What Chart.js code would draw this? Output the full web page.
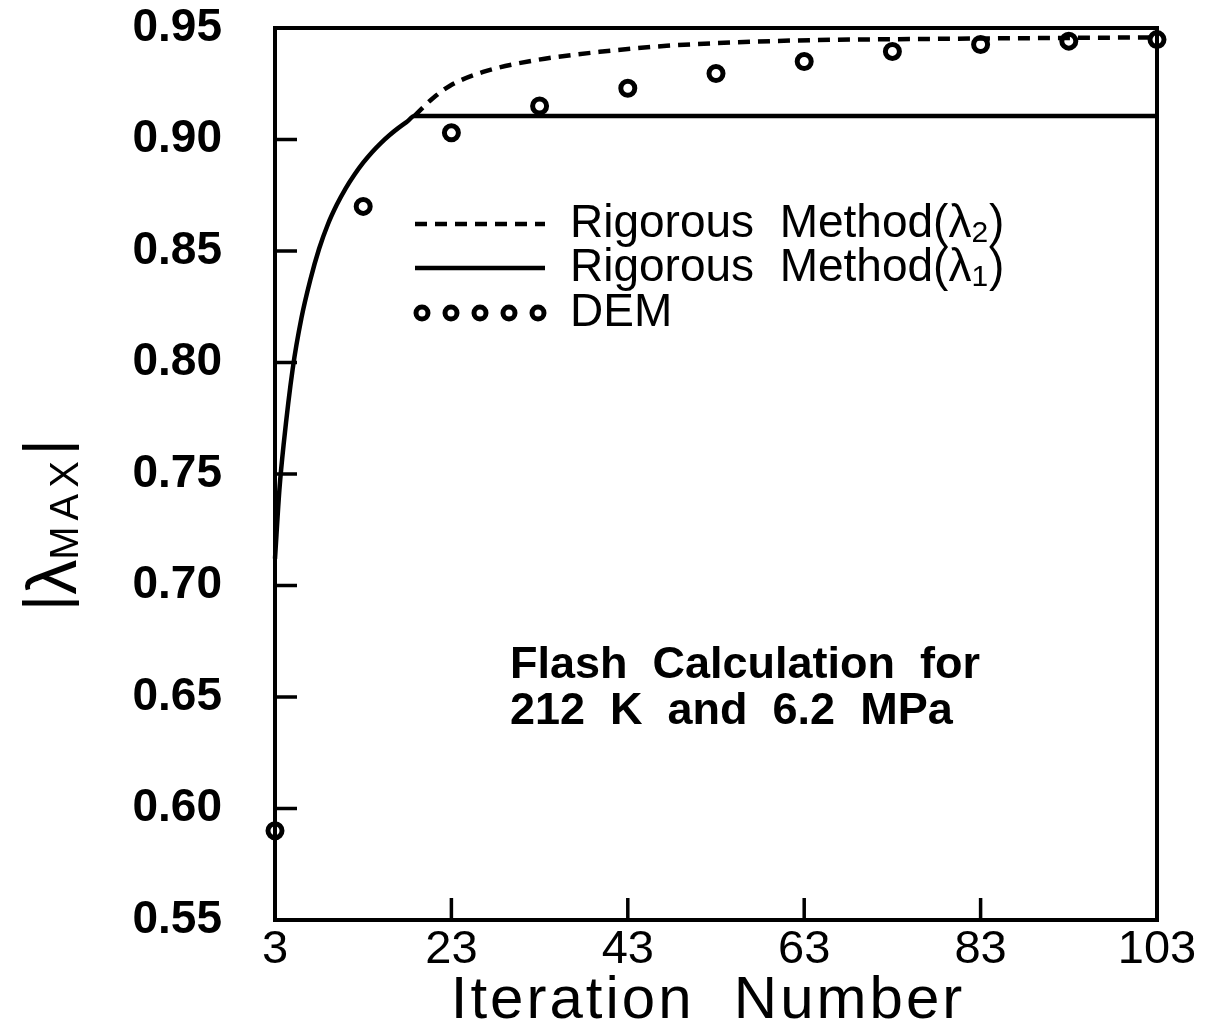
<!DOCTYPE html>
<html>
<head>
<meta charset="utf-8">
<script src="https://cdn.jsdelivr.net/npm/chart.js@4.4.1/dist/chart.umd.min.js"></script>
<style>
  body { margin: 0; background: #fff; }
  #wrap { width: 1207px; height: 1025px; }
</style>
</head>
<body>
<div id="wrap"><canvas id="myChart"></canvas></div>
<script>
const xTicks = [3, 23, 43, 63, 83, 103];
const yTicks = [0.55, 0.60, 0.65, 0.70, 0.75, 0.80, 0.85, 0.90, 0.95];

// Rigorous method, lambda 1 (solid)
const lambda1X = [3, 3.5, 4, 5, 6, 7, 8, 9, 10, 11, 12, 13, 14, 15, 16, 17, 18, 18.8, 103];
const lambda1Y = [0.712, 0.743, 0.764, 0.797, 0.820, 0.837, 0.851, 0.862, 0.8707, 0.878, 0.8842, 0.8896, 0.8943, 0.8984, 0.902, 0.9052, 0.9081, 0.9105, 0.9105];

// Rigorous method, lambda 2 (dashed)
const lambda2X = [18.8, 19.8, 20.9, 22.8, 26.6, 32.3, 39.8, 47.4, 54.9, 62, 80, 103];
const lambda2Y = [0.9105, 0.9145, 0.9185, 0.924, 0.9303, 0.9354, 0.9393, 0.942, 0.9435, 0.9444, 0.9452, 0.9458];

// DEM (circles)
const demX = [3, 13, 23, 33, 43, 53, 63, 73, 83, 93, 103];
const demY = [0.590, 0.870, 0.903, 0.915, 0.923, 0.9296, 0.935, 0.9395, 0.9426, 0.9441, 0.9448];

const legendLabels = ['Rigorous  Method(\u03bb', 'Rigorous  Method(\u03bb', 'DEM'];
const legendSubs = ['2', '1', ''];
const noteLines = ['Flash  Calculation  for', '212  K  and  6.2  MPa'];
const xTitle = 'Iteration  Number';

const FONT = '"Liberation Sans", Arial, sans-serif';

const pts = (xs, ys) => xs.map((v, i) => ({ x: v, y: ys[i] }));

const decorations = {
  id: 'decorations',
  beforeDatasetsDraw(chart) {
    const { ctx, chartArea: a, scales: { x, y } } = chart;
    ctx.save();
    ctx.strokeStyle = '#000';
    ctx.lineWidth = 4;
    ctx.strokeRect(a.left, a.top, a.right - a.left, a.bottom - a.top);
    ctx.lineWidth = 3.5;
    ctx.beginPath();
    yTicks.forEach(v => {
      const py = y.getPixelForValue(v);
      ctx.moveTo(a.left, py);
      ctx.lineTo(a.left + 22, py);
    });
    xTicks.forEach(v => {
      const px = x.getPixelForValue(v);
      ctx.moveTo(px, a.bottom);
      ctx.lineTo(px, a.bottom - 22);
    });
    ctx.stroke();
    ctx.restore();
  },
  afterDraw(chart) {
    const { ctx } = chart;
    const ds = chart.data.datasets;
    ctx.save();
    ctx.fillStyle = '#000';
    ctx.strokeStyle = '#000';

    // legend
    const rows = [224, 268, 313];
    const sx0 = 415, sx1 = 545, tx = 570;
    [1, 0, 2].forEach((di, r) => {
      const d = ds[di];
      const ry = rows[r];
      if (d.showLine === false) {
        ctx.lineWidth = d.pointBorderWidth;
        ctx.setLineDash([]);
        for (let k = 0; k < 5; k++) {
          ctx.beginPath();
          ctx.arc(sx0 + 7 + k * 29, ry, d.pointRadius - 1, 0, Math.PI * 2);
          ctx.stroke();
        }
      } else {
        ctx.lineWidth = d.borderWidth;
        ctx.setLineDash(d.borderDash || []);
        ctx.beginPath();
        ctx.moveTo(sx0, ry);
        ctx.lineTo(sx1, ry);
        ctx.stroke();
        ctx.setLineDash([]);
      }
      ctx.font = '46px ' + FONT;
      ctx.textBaseline = 'middle';
      ctx.textAlign = 'left';
      const label = legendLabels[r];
      ctx.fillText(label, tx, ry);
      if (legendSubs[r]) {
        const w = ctx.measureText(label).width;
        ctx.font = '30px ' + FONT;
        ctx.fillText(legendSubs[r], tx + w, ry + 10);
        const w2 = ctx.measureText(legendSubs[r]).width;
        ctx.font = '46px ' + FONT;
        ctx.fillText(')', tx + w + w2 + 1, ry);
      }
    });

    // note
    ctx.font = 'bold 45px ' + FONT;
    ctx.textBaseline = 'middle';
    ctx.textAlign = 'left';
    ctx.fillText(noteLines[0], 510, 666);
    ctx.fillText(noteLines[1], 510, 712);

    // x title
    ctx.font = '60px ' + FONT;
    ctx.textAlign = 'center';
    ctx.textBaseline = 'alphabetic';
    ctx.letterSpacing = '3px';
    ctx.fillText(xTitle, 708, 1018);
    ctx.letterSpacing = '0px';

    // y title |λMAX|
    ctx.translate(78, 525);
    ctx.rotate(-Math.PI / 2);
    ctx.textAlign = 'left';
    ctx.textBaseline = 'alphabetic';
    ctx.font = '62px ' + FONT;
    const wBar = ctx.measureText('|').width;
    ctx.font = '70px ' + FONT;
    const wLam = ctx.measureText('\u03bb').width;
    ctx.font = '40px ' + FONT;
    ctx.letterSpacing = '6px';
    const wMax = ctx.measureText('MAX').width;
    const total = wBar * 2 + wLam + wMax;
    let cx = -total / 2;
    ctx.letterSpacing = '0px';
    ctx.font = '62px ' + FONT;
    ctx.fillText('|', cx, -12);
    cx += wBar;
    ctx.font = '70px ' + FONT;
    ctx.fillText('\u03bb', cx, -2);
    cx += wLam;
    ctx.font = '40px ' + FONT;
    ctx.letterSpacing = '6px';
    ctx.fillText('MAX', cx, 0);
    cx += wMax;
    ctx.letterSpacing = '0px';
    ctx.font = '62px ' + FONT;
    ctx.fillText('|', cx, -12);
    ctx.restore();
  }
};

new Chart(document.getElementById('myChart'), {
  type: 'scatter',
  data: {
    datasets: [
      {
        label: 'Rigorous Method(\u03bb1)',
        data: pts(lambda1X, lambda1Y),
        showLine: true,
        borderColor: '#000',
        borderWidth: 4.5,
        pointRadius: 0,
        cubicInterpolationMode: 'monotone',
        clip: false
      },
      {
        label: 'Rigorous Method(\u03bb2)',
        data: pts(lambda2X, lambda2Y),
        showLine: true,
        borderColor: '#000',
        borderWidth: 4.5,
        borderDash: [12, 8],
        pointRadius: 0,
        cubicInterpolationMode: 'monotone',
        clip: false
      },
      {
        label: 'DEM',
        data: pts(demX, demY),
        showLine: false,
        borderColor: '#000',
        backgroundColor: 'rgba(0,0,0,0)',
        pointBackgroundColor: 'rgba(0,0,0,0)',
        pointBorderColor: '#000',
        borderWidth: 5,
        pointBorderWidth: 5,
        pointRadius: 7,
        clip: false
      }
    ]
  },
  options: {
    responsive: true,
    maintainAspectRatio: false,
    animation: false,
    events: [],
    layout: { padding: { left: 0, top: 28, right: 50, bottom: 0 } },
    plugins: { legend: { display: false }, tooltip: { enabled: false } },
    scales: {
      x: {
        type: 'linear',
        min: 3,
        max: 103,
        afterBuildTicks: s => { s.ticks = xTicks.map(v => ({ value: v })); },
        afterFit: s => { s.height = 105; s.paddingLeft = 0; s.paddingRight = 0; },
        grid: { display: false, drawTicks: false },
        border: { display: false },
        ticks: {
          color: '#000',
          padding: 2,
          maxRotation: 0,
          font: { family: FONT, size: 47 },
          callback: v => String(v)
        }
      },
      y: {
        min: 0.55,
        max: 0.95,
        afterBuildTicks: s => { s.ticks = yTicks.map(v => ({ value: v })); },
        afterFit: s => { s.width = 275; s.paddingTop = 0; s.paddingBottom = 0; },
        grid: { display: false, drawTicks: false },
        border: { display: false },
        ticks: {
          color: '#000',
          padding: 53,
          font: { family: FONT, size: 46, weight: 'bold' },
          callback: v => v.toFixed(2)
        }
      }
    }
  },
  plugins: [decorations]
});
</script>
</body>
</html>
